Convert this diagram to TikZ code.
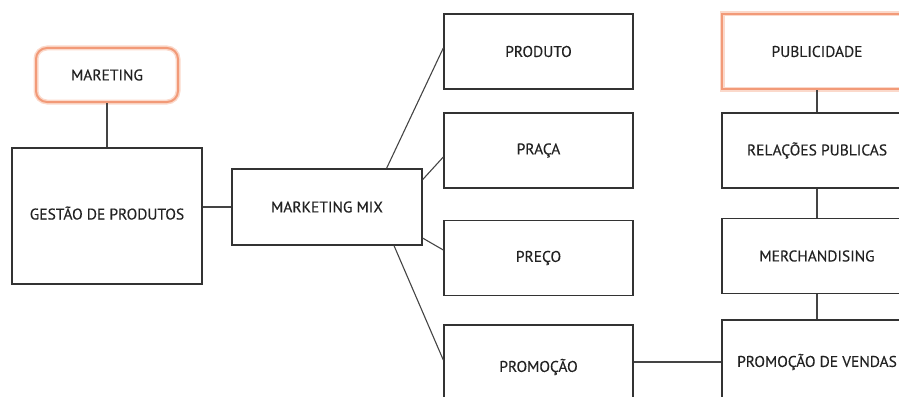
\documentclass[tikz,border=0pt]{standalone}
\usepackage{fontspec}
\usepackage{tikz}
\newfontfamily\boxfont[FakeBold=0.3]{PT Sans}
\definecolor{edge}{HTML}{333333}
\definecolor{wire}{HTML}{444444}
\definecolor{ink}{HTML}{222222}
\definecolor{peach}{HTML}{F29A78}
\definecolor{glow}{HTML}{FBD9CB}

\tikzset{
  box/.style={draw=edge, line width=1.4pt, minimum width=190pt, minimum height=75pt,
    inner sep=0pt, text=ink, font=\boxfont\fontsize{15.5}{18}\selectfont},
  hot/.style={draw=peach, line width=2pt, preaction={draw=glow, line width=5pt}},
  wire/.style={draw=wire, line width=1.1pt}
}

\begin{document}
\begin{tikzpicture}[x=1pt, y=-1pt]
\useasboundingbox (0,0) rectangle (899,396);
\clip (0,0) rectangle (899,396);
\node[box, hot, rounded corners=11pt, minimum width=142pt, minimum height=54pt] (mareting) at (107,75) {MARETING};
\node[box, minimum height=136pt] (gestao) at (107,216) {\raisebox{6pt}{GESTÃO DE PRODUTOS}};
\node[box, minimum height=76pt] (mix) at (327,207) {MARKETING MIX};
\node[box, minimum width=189pt] (produto) at (538.5,51.5) {PRODUTO};
\node[box, minimum width=189pt] (praca) at (538.5,150.5) {PRAÇA};
\node[box, minimum width=189pt] (preco) at (538.5,258) {PREÇO};
\node[box, minimum width=189pt, minimum height=84pt] (promocao) at (538.5,367) {PROMOÇÃO};
\node[box, hot] (publicidade) at (817,51.5) {PUBLICIDADE};
\node[box] (relacoes) at (817,150.5) {RELAÇÕES PUBLICAS};
\node[box] (merch) at (817,256) {MERCHANDISING};
\node[box, minimum height=84pt] (vendas) at (817,362) {PROMOÇÃO DE VENDAS};

\draw[wire] (mareting) -- (gestao);
\draw[wire] (mix.west -| gestao.east) -- (mix.west);
\draw[wire] (mix.33) -- ([yshift=3.5pt]produto.west);
\draw[wire] (mix.16) -- ([yshift=-6.5pt]praca.west);
\draw[wire] (mix.-18) -- ([yshift=8pt]preco.west);
\draw[wire] (mix.-30) -- ([yshift=7pt]promocao.west);
\draw[wire] (publicidade) -- (relacoes);
\draw[wire] (relacoes) -- (merch);
\draw[wire] (merch) -- (vendas);
\draw[wire] (vendas.west -| promocao.east) -- (vendas.west);
\end{tikzpicture}
\end{document}
